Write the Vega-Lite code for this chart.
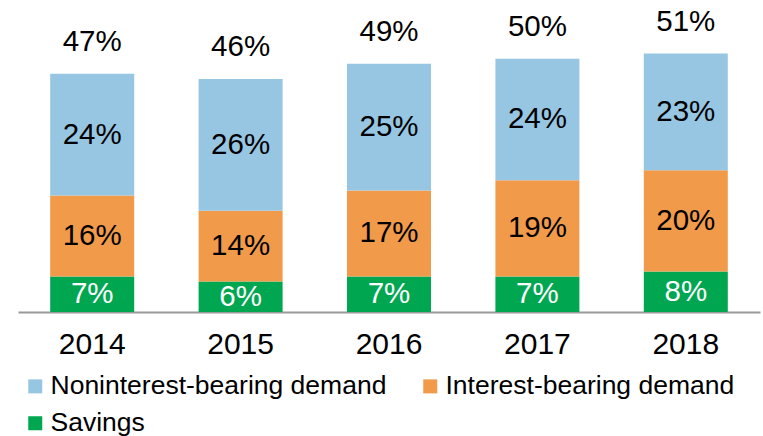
{
  "$schema": "https://vega.github.io/schema/vega-lite/v6.json",
  "autosize": "none",
  "padding": {"left": 18, "top": 8, "right": 3, "bottom": 124},
  "width": 742,
  "height": 304,
  "config": {"font": "Liberation Sans", "view": {"stroke": null}},
  "data": {"values": [
    {"year": "2014", "type": "Savings", "value": 7, "ord": 1},
    {"year": "2014", "type": "Interest-bearing demand", "value": 16, "ord": 2},
    {"year": "2014", "type": "Noninterest-bearing demand", "value": 24, "ord": 3},
    {"year": "2015", "type": "Savings", "value": 6, "ord": 1},
    {"year": "2015", "type": "Interest-bearing demand", "value": 14, "ord": 2},
    {"year": "2015", "type": "Noninterest-bearing demand", "value": 26, "ord": 3},
    {"year": "2016", "type": "Savings", "value": 7, "ord": 1},
    {"year": "2016", "type": "Interest-bearing demand", "value": 17, "ord": 2},
    {"year": "2016", "type": "Noninterest-bearing demand", "value": 25, "ord": 3},
    {"year": "2017", "type": "Savings", "value": 7, "ord": 1},
    {"year": "2017", "type": "Interest-bearing demand", "value": 19, "ord": 2},
    {"year": "2017", "type": "Noninterest-bearing demand", "value": 24, "ord": 3},
    {"year": "2018", "type": "Savings", "value": 8, "ord": 1},
    {"year": "2018", "type": "Interest-bearing demand", "value": 20, "ord": 2},
    {"year": "2018", "type": "Noninterest-bearing demand", "value": 23, "ord": 3}
  ]},
  "transform": [
    {"stack": "value", "groupby": ["year"], "sort": [{"field": "ord", "order": "ascending"}], "as": ["v0", "v1"]},
    {"calculate": "(datum.v0 + datum.v1) / 2", "as": "mid"}
  ],
  "encoding": {
    "x": {"field": "year", "type": "nominal", "title": null,
      "scale": {"paddingInner": 0.434, "paddingOuter": 0.217},
      "axis": {"domainColor": "#999999", "domainWidth": 2, "ticks": false, "labelAngle": 0, "labelFontSize": 30, "labelColor": "#000000", "labelPadding": 17, "labelFont": "Liberation Sans"}}
  },
  "layer": [
    {
      "mark": {"type": "bar"},
      "encoding": {
        "y": {"field": "v0", "type": "quantitative", "scale": {"domain": [0, 60]}, "axis": null},
        "y2": {"field": "v1"},
        "color": {"field": "type", "type": "nominal",
          "scale": {"domain": ["Noninterest-bearing demand", "Interest-bearing demand", "Savings"], "range": ["#97C6E3", "#F19A4A", "#00A650"]},
          "legend": {"title": null, "orient": "none", "legendX": 4, "legendY": 365, "padding": 0, "direction": "horizontal", "columns": 2, "symbolType": "square", "symbolSize": 196, "symbolStrokeWidth": 0, "labelFontSize": 26.5, "labelColor": "#000000", "labelFont": "Liberation Sans", "rowPadding": 10, "columnPadding": 30, "labelLimit": 400, "labelOffset": 2}
        }
      }
    },
    {
      "mark": {"type": "text", "fontSize": 29.5, "baseline": "middle"},
      "encoding": {
        "y": {"field": "mid", "type": "quantitative"},
        "text": {"field": "value", "type": "nominal", "format": ""},
        "color": {"condition": {"test": "datum.type === 'Savings'", "value": "#ffffff"}, "value": "#000000"}
      },
      "transform": [{"calculate": "datum.value + '%'", "as": "value"}]
    },
    {
      "transform": [
        {"aggregate": [{"op": "sum", "field": "value", "as": "total"}], "groupby": ["year"]},
        {"calculate": "datum.total + '%'", "as": "label"}
      ],
      "mark": {"type": "text", "fontSize": 29.5, "baseline": "middle", "dy": -32, "color": "#000000"},
      "encoding": {
        "y": {"field": "total", "type": "quantitative"},
        "text": {"field": "label"}
      }
    }
  ]
}
